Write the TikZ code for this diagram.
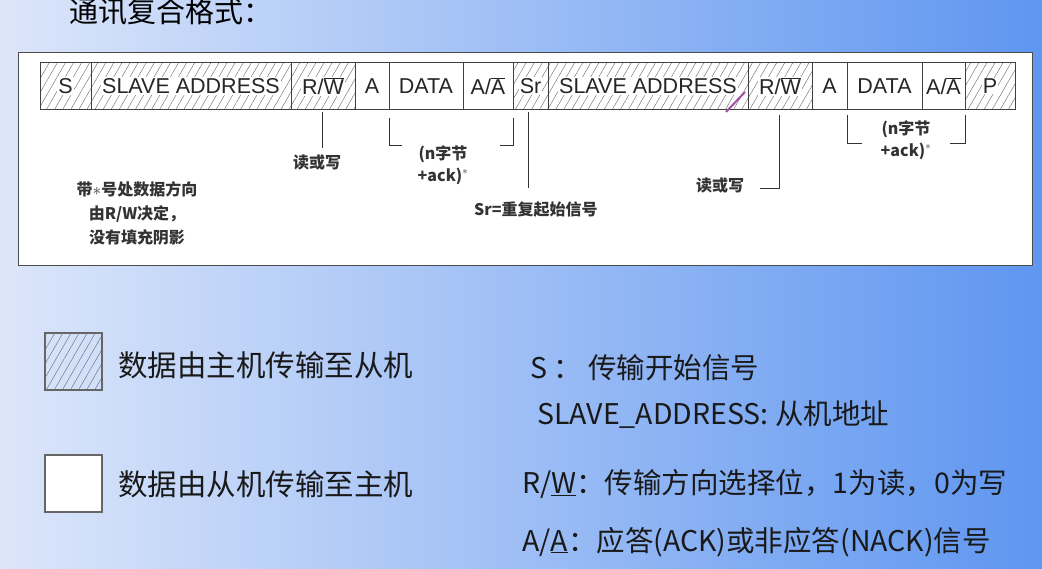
\documentclass[tikz,border=0pt]{standalone}
\usepackage{fontspec}
\setmainfont{Liberation Sans}
\newfontfamily\cjk{Noto Sans CJK SC}
\usetikzlibrary{patterns.meta}
\begin{document}
\begin{tikzpicture}[x=1pt,y=-1pt,
  hatch/.style={draw=black!75,line width=0.6pt,pattern={Lines[angle=60,distance=7pt,line width=0.4pt]},pattern color=black!60},
  plain/.style={draw=black!75,line width=0.6pt,fill=white},
  lab/.style={font=\fontsize{21.5}{21.5}\selectfont,text=black!85,inner sep=1pt,fill=white},
  ann/.style={font=\cjk\bfseries\fontsize{16}{22}\selectfont,text=black!80,align=center,inner sep=0pt},
  leg/.style={font=\cjk\fontsize{29.5}{30}\selectfont,anchor=west,inner sep=0pt,text=black!90},
  legr/.style={font=\cjk\fontsize{28.5}{30}\selectfont,anchor=west,inner sep=0pt,text=black!90},
  conn/.style={line width=1pt,black!80}]
\useasboundingbox (0,0) rectangle (1042,568);
\shade[left color={rgb,255:red,220;green,230;blue,250},right color={rgb,255:red,95;green,150;blue,240}] (0,0) rectangle (1042,568);
\node[font=\cjk\fontsize{29}{29}\selectfont,anchor=west] (title) at (66,12) {通讯复合格式：};
\draw[fill=white,draw=black!70,line width=0.8pt] (18,52) rectangle (1032,265);
% cells
\def\cell#1#2#3#4#5{\path[#4] (#1,62) rectangle (#2,109); \node[lab] (#5) at ({(#1+#2)/2},86) {#3};}
\cell{40}{91}{S}{hatch}{s}
\cell{91}{291}{SLAVE ADDRESS}{hatch}{sa}
\cell{291}{355}{R/$\overline{\mbox{W}}$}{hatch}{rw}
\cell{355}{389}{A}{plain}{a}
\cell{389}{463}{DATA}{plain}{d}
\cell{463}{513}{A/$\overline{\mbox{A}}$}{plain}{aa}
\cell{513}{548}{Sr}{hatch}{sr}
\cell{548}{748}{SLAVE ADDRESS}{hatch}{sa2}
\cell{748}{812}{R/$\overline{\mbox{W}}$}{hatch}{rw2}
\cell{812}{847}{A}{plain}{a2}
\cell{847}{922}{DATA}{plain}{d2}
\cell{922}{965}{A/$\overline{\mbox{A}}$}{plain}{aa2}
\cell{965}{1015}{P}{hatch}{p}
\draw[violet!70,line width=2pt] (726,112) -- (745,92);
% annotations
\node[ann] (rwl) at (317,162) {读或写};
\draw[conn] (322,112) -- (322,148);
\draw[conn] (389,118) -- (389,145) -- (402,145);
\draw[conn] (513,118) -- (513,145) -- (500,145);
\node[ann] (n1) at (443,165) {(n字节\\+ack)$^*$};
\draw[conn] (528,112) -- (528,188);
\node[ann,anchor=west] (srl) at (474,210) {Sr=重复起始信号};
\draw[conn] (779,115) -- (779,188) -- (760,188);
\node[ann] (rwl2) at (720,185) {读或写};
\draw[conn] (847,115) -- (847,143) -- (862,143);
\draw[conn] (965,115) -- (965,143) -- (950,143);
\node[ann] (n2) at (906,140) {(n字节\\+ack)$^*$};
\node[ann,font=\cjk\bfseries\fontsize{16}{24}\selectfont] (note) at (137,213) {带$*$号处数据方向\\由R/W决定，\\没有填充阴影};
% legend
\path[hatch,draw=black!60,line width=1.5pt] (45,333) rectangle (102,390);
\path[plain,draw=black!60,line width=1.5pt] (45,455) rectangle (102,512);
\node[leg] (l1) at (118,365) {数据由主机传输至从机};
\node[leg] (l2) at (118,484) {数据由从机传输至主机};
\node[legr] (r1) at (530,368) {S ：\ 传输开始信号};
\node[legr] (r2) at (537,415) {SLAVE\_ADDRESS: 从机地址};
\node[legr] (r3) at (522,484) {R/\underline{W}：传输方向选择位，1为读，0为写};
\node[legr] (r4) at (522,542) {A/\underline{A}：应答(ACK)或非应答(NACK)信号};
\end{tikzpicture}
\end{document}
